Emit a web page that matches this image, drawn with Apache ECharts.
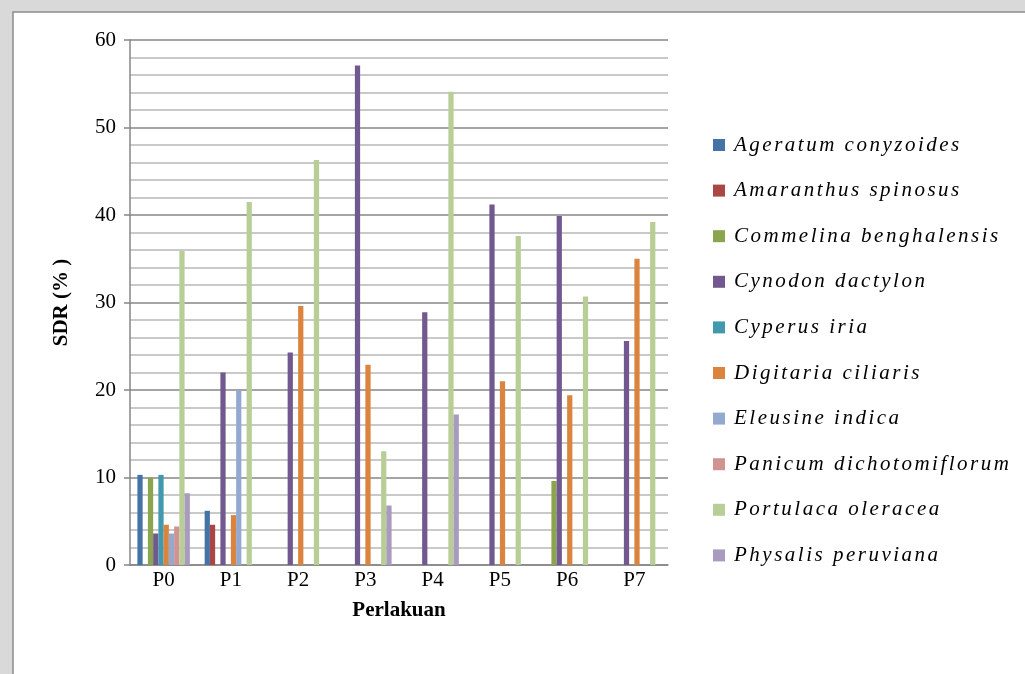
<!DOCTYPE html>
<html>
<head>
<meta charset="utf-8">
<script src="https://cdn.jsdelivr.net/npm/echarts@6/dist/echarts.min.js"></script>
<style>
html,body{margin:0;padding:0;background:#d9d9d9;}
#c{width:1025px;height:674px;}
</style>
</head>
<body>
<div id="c"></div>
<script>
const categories = ['P0','P1','P2','P3','P4','P5','P6','P7'];
const seriesNames = ['Ageratum conyzoides','Amaranthus spinosus','Commelina benghalensis','Cynodon dactylon','Cyperus iria','Digitaria ciliaris','Eleusine indica','Panicum dichotomiflorum','Portulaca oleracea','Physalis peruviana'];
const ageratum   = [10.3, 6.2, 0, 0, 0, 0, 0, 0];
const amaranthus = [0, 4.6, 0, 0, 0, 0, 0, 0];
const commelina  = [10.0, 0, 0, 0, 0, 0, 9.6, 0];
const cynodon    = [3.6, 22.0, 24.3, 57.1, 28.9, 41.2, 39.9, 25.6];
const cyperus    = [10.3, 0, 0, 0, 0, 0, 0, 0];
const digitaria  = [4.6, 5.7, 29.6, 22.9, 0, 21.0, 19.4, 35.0];
const eleusine   = [3.6, 20.0, 0, 0, 0, 0, 0, 0];
const panicum    = [4.4, 0, 0, 0, 0, 0, 0, 0];
const portulaca  = [35.9, 41.5, 46.3, 13.0, 54.1, 37.6, 30.7, 39.2];
const physalis   = [8.2, 0, 0, 6.8, 17.2, 0, 0, 0];
const yTicks = [0, 10, 20, 30, 40, 50, 60];

const seriesData = [ageratum, amaranthus, commelina, cynodon, cyperus, digitaria, eleusine, panicum, portulaca, physalis];
const colors = ['#4572A7','#AA4643','#89A54E','#71588F','#4198AF','#DB843D','#93A9CF','#D19392','#B9CD96','#A99BBD'];

// widen italic legend text (letter spacing) as in the reference
(function(){
  const P = CanvasRenderingContext2D.prototype;
  const orig = P.fillText;
  P.fillText = function(t, x, y, m){
    try { this.letterSpacing = (this.font.indexOf('italic') >= 0) ? '2.5px' : '0px'; } catch(e) {}
    return m === undefined ? orig.call(this, t, x, y) : orig.call(this, t, x, y, m);
  };
})();

const chart = echarts.init(document.getElementById('c'), null, {renderer:'canvas'});
const font = '"Liberation Serif","Times New Roman",serif';
chart.setOption({
  animation:false,
  color: colors,
  graphic:[{type:'rect', z:-10, shape:{x:13,y:12,width:1030,height:680}, style:{fill:'#ffffff', stroke:'#8c8c8c', lineWidth:1.5}}],
  grid:{left:130, right:357, top:40, bottom:109, containLabel:false},
  legend:{
    orient:'vertical', left:708, top:128, itemWidth:12, itemHeight:12, itemGap:21.6,
    icon:'rect',
    textStyle:{fontFamily:font, fontStyle:'italic', fontSize:21, color:'#000', lineHeight:24, padding:[0,0,0,4]},
    data: seriesNames
  },
  xAxis:{
    type:'category', data:categories,
    name:'Perlakuan', nameLocation:'middle', nameGap:35,
    nameTextStyle:{fontFamily:font, fontWeight:'bold', fontSize:21, color:'#000'},
    axisLine:{show:true, lineStyle:{color:'#868686', width:1.5}},
    axisTick:{show:false},
    axisLabel:{fontFamily:font, fontSize:21, color:'#000', margin:5}
  },
  yAxis:{
    type:'value', min:0, max:60, interval:10,
    name:'SDR (% )', nameLocation:'middle', nameGap:58, nameRotate:90,
    nameTextStyle:{fontFamily:font, fontWeight:'bold', fontSize:21, color:'#000'},
    axisLine:{show:true, lineStyle:{color:'#868686', width:1.5}},
    axisTick:{show:true, length:6, lineStyle:{color:'#868686', width:1.5}},
    axisLabel:{fontFamily:font, fontSize:21, color:'#000', margin:14,
      formatter:function(v){return yTicks.indexOf(v)>=0 ? String(v) : '';}},
    splitLine:{show:true, lineStyle:{color:'#868686', width:1.5}},
    minorTick:{show:false, splitNumber:5},
    minorSplitLine:{show:true, lineStyle:{color:'#b8b8b8', width:1.5}}
  },
  series: seriesData.map((d,i)=>({
    name: seriesNames[i], type:'bar', data:d,
    barGap:'0%', barCategoryGap:'22%',
    itemStyle:{color:colors[i]}
  }))
});
</script>
</body>
</html>
